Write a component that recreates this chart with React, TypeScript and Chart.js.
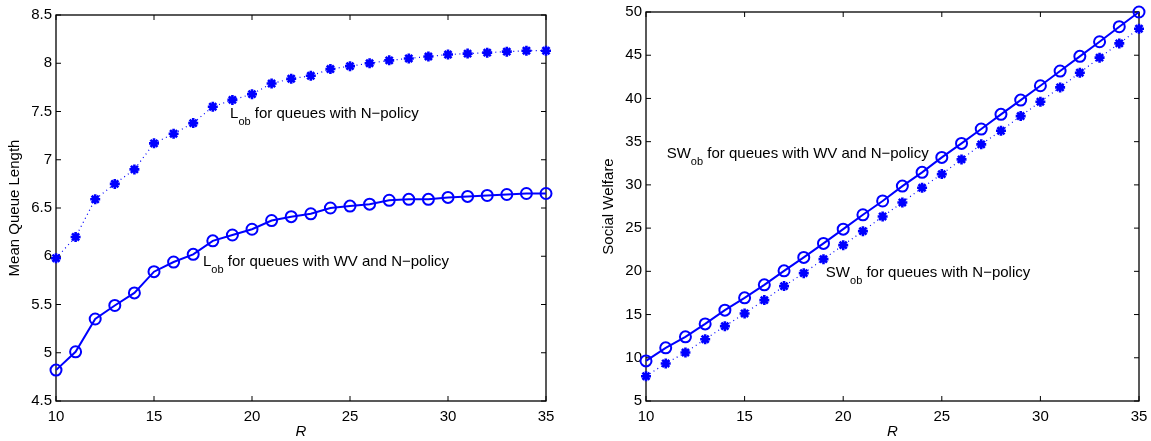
import React, { useEffect, useRef } from "react";
import { Chart, registerables } from "chart.js";

Chart.register(...registerables);

const rValues = [10, 11, 12, 13, 14, 15, 16, 17, 18, 19, 20, 21, 22, 23, 24, 25, 26, 27, 28, 29, 30, 31, 32, 33, 34, 35];

const lobNPolicy = [5.98, 6.2, 6.59, 6.75, 6.9, 7.17, 7.27, 7.38, 7.55, 7.62, 7.68, 7.79, 7.84, 7.87, 7.94, 7.97, 8.0, 8.03, 8.05, 8.07, 8.09, 8.1, 8.11, 8.12, 8.13, 8.13];
const lobWVNPolicy = [4.82, 5.01, 5.35, 5.49, 5.62, 5.84, 5.94, 6.02, 6.16, 6.22, 6.28, 6.37, 6.41, 6.44, 6.5, 6.52, 6.54, 6.58, 6.59, 6.59, 6.61, 6.62, 6.63, 6.64, 6.65, 6.65];

const swWVNPolicy = [9.64, 11.15, 12.42, 13.92, 15.51, 16.93, 18.44, 20.06, 21.61, 23.23, 24.88, 26.54, 28.14, 29.86, 31.45, 33.18, 34.8, 36.46, 38.16, 39.81, 41.47, 43.17, 44.87, 46.56, 48.3, 50.0];
const swNPolicy = [7.87, 9.34, 10.61, 12.15, 13.66, 15.13, 16.67, 18.29, 19.79, 21.41, 23.03, 24.65, 26.35, 27.97, 29.67, 31.25, 32.95, 34.69, 36.26, 37.96, 39.62, 41.28, 42.98, 44.72, 46.37, 48.07];

const leftYTicks = { min: 4.5, max: 8.5, step: 0.5 };
const rightYTicks = { min: 5, max: 50, step: 5 };
const xTicks = { min: 10, max: 35, step: 5 };

const leftNotes = [
  { x: 18.88, y: 7.43, main: "L", sub: "ob", rest: " for queues with N\u2212policy" },
  { x: 17.5, y: 5.9, main: "L", sub: "ob", rest: " for queues with WV and N\u2212policy" },
];
const rightNotes = [
  { x: 11.05, y: 33.1, main: "SW", sub: "ob", rest: " for queues with WV and N\u2212policy" },
  { x: 19.12, y: 19.33, main: "SW", sub: "ob", rest: " for queues with N\u2212policy" },
];

const FONT = "'Liberation Sans', Arial, Helvetica, sans-serif";
const BLUE = "#0000ff";

const boxPlugin = {
  id: "matlabBox",
  beforeDatasetsDraw(chart: any) {
    const { ctx, chartArea: a, scales } = chart;
    ctx.save();
    ctx.strokeStyle = "#000";
    ctx.lineWidth = 1.3;
    ctx.strokeRect(a.left, a.top, a.right - a.left, a.bottom - a.top);
    ctx.lineWidth = 1;
    const tl = 5;
    ctx.beginPath();
    scales.x.ticks.forEach((t: any) => {
      const px = scales.x.getPixelForValue(t.value);
      ctx.moveTo(px, a.bottom);
      ctx.lineTo(px, a.bottom - tl);
      ctx.moveTo(px, a.top);
      ctx.lineTo(px, a.top + tl);
    });
    scales.y.ticks.forEach((t: any) => {
      const py = scales.y.getPixelForValue(t.value);
      ctx.moveTo(a.left, py);
      ctx.lineTo(a.left + tl, py);
      ctx.moveTo(a.right, py);
      ctx.lineTo(a.right - tl, py);
    });
    ctx.stroke();
    ctx.restore();
  },
  afterDatasetsDraw(chart: any, _args: any, opts: any) {
    const { ctx, scales } = chart;
    const notes = opts.notes || [];
    ctx.save();
    ctx.fillStyle = "#000";
    ctx.textBaseline = "alphabetic";
    ctx.textAlign = "left";
    notes.forEach((n: any) => {
      let x = scales.x.getPixelForValue(n.x);
      const y = scales.y.getPixelForValue(n.y);
      ctx.font = `15px ${FONT}`;
      ctx.fillText(n.main, x, y);
      x += ctx.measureText(n.main).width;
      ctx.font = `11px ${FONT}`;
      ctx.fillText(n.sub, x, y + 7);
      x += ctx.measureText(n.sub).width;
      ctx.font = `15px ${FONT}`;
      ctx.fillText(n.rest, x, y);
    });
    ctx.restore();
  },
};

function makeConfig(opts: {
  solid: number[];
  dotted: number[];
  yT: { min: number; max: number; step: number };
  yTitle: string;
  yWidth: number;
  yTitlePad: number;
  padTop: number;
  padRight: number;
  notes: any[];
}) {
  const toPts = (arr: number[]) => rValues.map((r, i) => ({ x: r, y: arr[i] }));
  return {
    type: "line" as const,
    data: {
      datasets: [
        {
          data: toPts(opts.dotted),
          borderColor: BLUE,
          backgroundColor: BLUE,
          borderWidth: 1.2,
          borderDash: [1, 3.5],
          pointStyle: "star",
          pointRadius: 5,
          pointBorderWidth: 2.6,
          pointBorderColor: BLUE,
          clip: false,
        },
        {
          data: toPts(opts.solid),
          borderColor: BLUE,
          backgroundColor: "rgba(0,0,0,0)",
          borderWidth: 2,
          pointStyle: "circle",
          pointRadius: 5.5,
          pointBorderWidth: 2,
          pointBorderColor: BLUE,
          pointBackgroundColor: "rgba(0,0,0,0)",
          clip: false,
        },
      ],
    },
    options: {
      animation: false,
      responsive: false,
      maintainAspectRatio: false,
      layout: { padding: { top: opts.padTop, right: opts.padRight, left: 0, bottom: 0 } },
      plugins: {
        legend: { display: false },
        tooltip: { enabled: false },
        matlabBox: { notes: opts.notes },
      },
      scales: {
        x: {
          type: "linear",
          min: xTicks.min,
          max: xTicks.max,
          grid: { display: false, drawTicks: false },
          border: { display: false },
          ticks: { stepSize: xTicks.step, color: "#000", padding: 7, font: { family: FONT, size: 15 }, maxRotation: 0, callback: (v: any) => String(v) },
          title: { display: true, text: "R", color: "#000", font: { family: FONT, size: 15, style: "italic" }, padding: { top: 0, bottom: 0 } },
          afterFit: (s: any) => {
            s.height = 40;
            s.paddingLeft = 0;
            s.paddingRight = 0;
          },
        },
        y: {
          type: "linear",
          min: opts.yT.min,
          max: opts.yT.max,
          grid: { display: false, drawTicks: false },
          border: { display: false },
          ticks: { stepSize: opts.yT.step, color: "#000", padding: 4, font: { family: FONT, size: 15 }, callback: (v: any) => String(v) },
          title: { display: true, text: opts.yTitle, color: "#000", font: { family: FONT, size: 15 }, padding: { top: opts.yTitlePad, bottom: 0 } },
          afterFit: (s: any) => {
            s.width = opts.yWidth;
            s.paddingTop = 0;
            s.paddingBottom = 0;
          },
        },
      },
    },
    plugins: [boxPlugin],
  };
}

export default function App() {
  const leftRef = useRef<HTMLCanvasElement>(null);
  const rightRef = useRef<HTMLCanvasElement>(null);

  useEffect(() => {
    const left = new Chart(
      leftRef.current!,
      makeConfig({
        solid: lobWVNPolicy,
        dotted: lobNPolicy,
        yT: leftYTicks,
        yTitle: "Mean Queue Length",
        yWidth: 56,
        yTitlePad: 6,
        padTop: 15,
        padRight: 29,
        notes: leftNotes,
      }) as any
    );
    const right = new Chart(
      rightRef.current!,
      makeConfig({
        solid: swWVNPolicy,
        dotted: swNPolicy,
        yT: rightYTicks,
        yTitle: "Social Welfare",
        yWidth: 71,
        yTitlePad: 25,
        padTop: 12,
        padRight: 12,
        notes: rightNotes,
      }) as any
    );
    return () => {
      left.destroy();
      right.destroy();
    };
  }, []);

  return (
    <div style={{ position: "fixed", left: 0, top: 0, width: 1151, height: 441, background: "#fff" }}>
      <canvas ref={leftRef} width={575} height={441} style={{ position: "absolute", left: 0, top: 0, width: 575, height: 441 }} />
      <canvas ref={rightRef} width={576} height={441} style={{ position: "absolute", left: 575, top: 0, width: 576, height: 441 }} />
    </div>
  );
}
